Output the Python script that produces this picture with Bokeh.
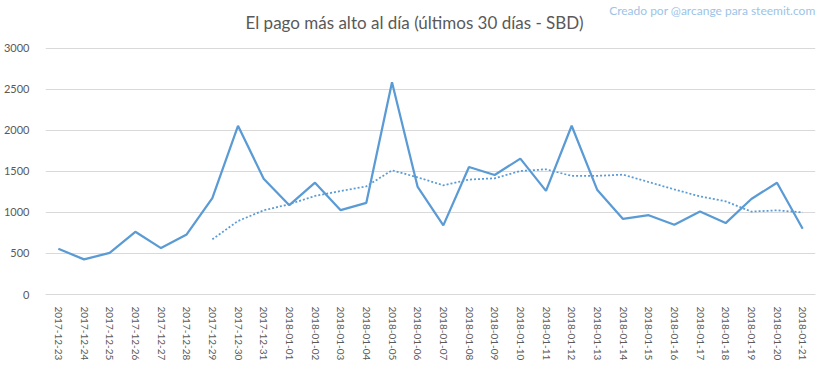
from bokeh.plotting import figure
from bokeh.models import Range1d, Label
from bokeh.embed import file_html
from bokeh.resources import INLINE

dates = ["2017-12-23", "2017-12-24", "2017-12-25", "2017-12-26", "2017-12-27", "2017-12-28",
         "2017-12-29", "2017-12-30", "2017-12-31", "2018-01-01", "2018-01-02", "2018-01-03",
         "2018-01-04", "2018-01-05", "2018-01-06", "2018-01-07", "2018-01-08", "2018-01-09",
         "2018-01-10", "2018-01-11", "2018-01-12", "2018-01-13", "2018-01-14", "2018-01-15",
         "2018-01-16", "2018-01-17", "2018-01-18", "2018-01-19", "2018-01-20", "2018-01-21"]
max_payout = [557, 428, 506, 764, 565, 732, 1173, 2055, 1411, 1088, 1362, 1027,
              1117, 2585, 1310, 842, 1553, 1456, 1655, 1262, 2055, 1272,
              921, 966, 850, 1010, 870, 1163, 1362, 800]
avg_dates = dates[6:]
moving_avg = [672, 895, 1025, 1100, 1200, 1260, 1317, 1513, 1427, 1330, 1400, 1415,
              1505, 1525, 1445, 1445, 1460, 1370, 1280, 1195, 1135, 1010, 1025, 1000]
y_ticks = [0, 500, 1000, 1500, 2000, 2500, 3000]
title_text = "El pago más alto al día (últimos 30 días - SBD)"
credit_text = "Creado por @arcange para steemit.com"

W, H = 817, 363
FONT = "Lato"
LEFT, BOTTOM, TOP_GAP = 45, 61, 49          # px: frame left, bottom border, room above 3000
frame_h = H - BOTTOM
y_top = 3000 * frame_h / (frame_h - TOP_GAP)  # keeps the 3000 line TOP_GAP px below the top

p = figure(x_range=dates, y_range=Range1d(0, y_top), width=W, height=H,
           output_backend="svg", toolbar_location=None,
           min_border_left=LEFT, min_border_right=2, min_border_top=0, min_border_bottom=BOTTOM)
p.x_range.range_padding = 0
p.outline_line_color = None
p.background_fill_color = "white"
p.border_fill_color = "white"

p.line(dates, max_payout, line_color="#5b9bd5", line_width=2.25)
p.line(avg_dates, moving_avg, line_color="#5b9bd5", line_width=1.75, line_dash="2 2")

p.xgrid.grid_line_color = None
p.ygrid.grid_line_color = "#d9d9d9"
p.ygrid.grid_line_width = 1
p.yaxis.ticker = y_ticks

for ax in (p.xaxis, p.yaxis):
    ax.axis_line_color = None
    ax.major_tick_line_color = None
    ax.minor_tick_line_color = None
    ax.major_label_text_font = FONT
    ax.major_label_text_color = "#595959"
p.yaxis.major_label_text_font_size = "11px"
p.xaxis.major_label_text_font_size = "10px"
p.xaxis.axis_line_color = "#d9d9d9"
p.xaxis.major_label_orientation = "vertical"
p.xaxis.major_label_standoff = 6
p.yaxis.major_label_standoff = 10

# screen units: x from the frame's left edge, y up from the frame's bottom edge
p.add_layout(Label(x=245 - LEFT, y=frame_h - 29.5, x_units="screen", y_units="screen",
                   text=title_text, text_font=FONT, text_font_size="17px",
                   text_color="#595959", text_align="left", text_baseline="alphabetic"))
p.add_layout(Label(x=815 - LEFT, y=frame_h - 17.5, x_units="screen", y_units="screen",
                   text=credit_text, text_font=FONT, text_font_size="12px",
                   text_color="#9dc3e6", text_align="right", text_baseline="alphabetic"))

open("out.html", "w").write(file_html(p, INLINE))
